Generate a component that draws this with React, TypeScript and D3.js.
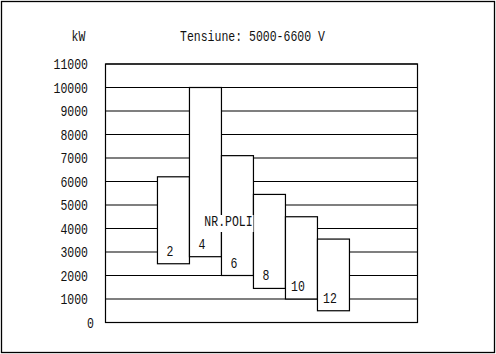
import * as d3 from "d3";

const poles = ["2", "4", "6", "8", "10", "12"];
const powerLow = [2500, 2800, 2000, 1450, 1000, 500];
const powerHigh = [6200, 10000, 7100, 5450, 4500, 3550];
const yTicks = [0, 1000, 2000, 3000, 4000, 5000, 6000, 7000, 8000, 9000, 10000, 11000];

const W = 496;
const H = 354;
const FONT = "'Liberation Mono', 'DejaVu Sans Mono', monospace";
const CHAR_W = 6.9;

const plot = { left: 105.5, right: 417.5, top: 64, bottom: 322.5 };

const Txt = (props: {
  x: number;
  y: number;
  s: string;
  anchor?: "start" | "middle" | "end";
}) => (
  <text
    x={props.x}
    y={props.y}
    textAnchor={props.anchor || "start"}
    fontFamily={FONT}
    fontSize={14.5}
    fill="#111"
    textLength={props.s.length * CHAR_W}
    lengthAdjust="spacingAndGlyphs"
  >
    {props.s}
  </text>
);

export default function App() {
  const x = d3
    .scaleBand<string>()
    .domain(poles)
    .range([plot.left, plot.right])
    .paddingInner(0)
    .paddingOuter(1.875)
    .align(0.433);

  const y = d3.scaleLinear().domain([0, 11000]).range([plot.bottom, plot.top]);

  const bars = poles.map((p, i) => ({ p, lo: powerLow[i], hi: powerHigh[i] }));

  // caption sits over the bars with a white patch behind it
  const capX = 228.5;
  const capY = 226;
  const cap = "NR.POLI";

  return (
    <svg
      width={W}
      height={H}
      style={{ position: "absolute", left: 0, top: 0, background: "#fff" }}
    >
      <rect x={1.5} y={1.5} width={W - 3} height={H - 3} fill="#fff" stroke="#000" strokeWidth={1.3} />

      <Txt x={71.5} y={41} s="kW" />
      <Txt x={180} y={41} s="Tensiune: 5000-6600 V" />

      <rect
        x={plot.left}
        y={plot.top}
        width={plot.right - plot.left}
        height={plot.bottom - plot.top}
        fill="#fff"
        stroke="#000"
        strokeWidth={1.2}
      />
      {yTicks.map((t) => (
        <line key={t} x1={plot.left} x2={plot.right} y1={y(t)} y2={y(t)} stroke="#000" strokeWidth={1.2} />
      ))}
      {yTicks.map((t) => (
        <g key={"l" + t} transform={`translate(${t === 0 ? 94 : 88},${y(t) + 5})`}>
          <Txt x={0} y={0} s={String(t)} anchor="end" />
        </g>
      ))}

      {bars.map((b) => (
        <rect
          key={b.p}
          x={x(b.p)!}
          y={y(b.hi)}
          width={x.bandwidth()}
          height={y(b.lo) - y(b.hi)}
          fill="#fff"
          stroke="#000"
          strokeWidth={1.2}
        />
      ))}
      {bars.map((b) => (
        <Txt
          key={"t" + b.p}
          x={x(b.p)! + x.bandwidth() / 2 - 3.5}
          y={y(b.lo) - 8}
          s={b.p}
          anchor="middle"
        />
      ))}

      <rect x={capX - 25} y={capY - 11} width={50} height={17} fill="#fff" />
      <Txt x={capX} y={capY} s={cap} anchor="middle" />
    </svg>
  );
}
